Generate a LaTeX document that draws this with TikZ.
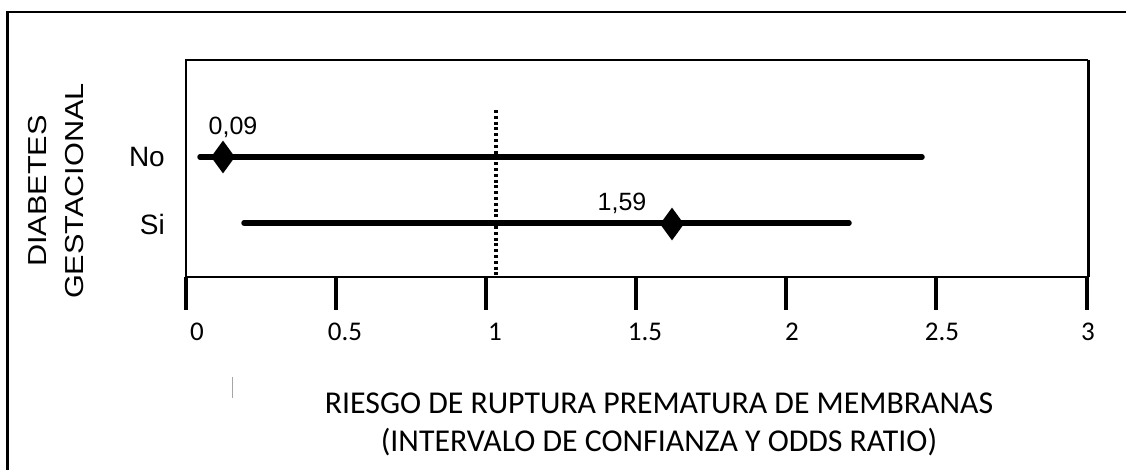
\documentclass[tikz,border=0pt]{standalone}
\usepackage{fontspec}
\setmainfont{Liberation Sans}
\newfontfamily\calfont{Carlito}
\usetikzlibrary{shapes.geometric}
\tikzset{
  ci/.style={line width=5.5pt, line cap=round},
  odiam/.style={diamond, fill=black, draw=none, inner sep=0pt, minimum width=24pt, minimum height=33pt},
  tickln/.style={line width=3.5pt},
  ticklab/.style={font=\calfont\fontsize{27}{32}\selectfont, inner sep=0pt},
  vallab/.style={font=\fontsize{25}{30}\selectfont, inner sep=0pt},
  rowlab/.style={font=\fontsize{28}{32}\selectfont, inner sep=0pt, anchor=east},
  axlab/.style={font=\fontsize{26}{30}\selectfont, inner sep=0pt, rotate=90},
  titlab/.style={font=\calfont\fontsize{31.8}{38}\selectfont, inner sep=0pt, align=center}
}
\begin{document}
\begin{tikzpicture}[x=1pt,y=-1pt]
\useasboundingbox (0,0) rectangle (1126,470);
% outer frame (left and top edges)
\coordinate (fbl) at (7.5,470);
\coordinate (ftl) at (7.5,12);
\coordinate (ftr) at (1126,12);
\draw[line width=2.2pt] (fbl) -- (ftl) -- (ftr);
% plot box
\coordinate (bl) at (186,277);
\coordinate (tl) at (186,60);
\coordinate (tr) at (1088,60);
\coordinate (br) at (1088,277);
\draw[line width=2pt] (br) -- (bl) -- (tl) -- (tr);
\draw[line width=3pt] (tr) -- (br);
% ticks
\foreach \i/\x in {0/186,1/336,2/486,3/636,4/786,5/936,6/1087}{
  \coordinate (t\i a) at (\x,277);
  \coordinate (t\i b) at (\x,310);
  \draw[tickln] (t\i a) -- (t\i b);
}
\node[ticklab] (l0) at (197,332) {0};
\node[ticklab] (l1) at (345,332) {0.5};
\node[ticklab] (l2) at (495,332) {1};
\node[ticklab] (l3) at (645,332) {1.5};
\node[ticklab] (l4) at (792,332) {2};
\node[ticklab] (l5) at (942,332) {2.5};
\node[ticklab] (l6) at (1088,332) {3};
% reference line
\coordinate (r1) at (496,110);
\coordinate (r2) at (496,277);
\draw[line width=3.2pt, dash pattern=on 3pt off 2.8pt] (r1) -- (r2);
% confidence intervals
\coordinate (nos) at (200,157);
\coordinate (noe) at (922,157);
\draw[ci] (nos) -- (noe);
\node[odiam] (nod) at (223,157) {};
\coordinate (sis) at (244,223);
\coordinate (sie) at (849,223);
\draw[ci] (sis) -- (sie);
\node[odiam] (sid) at (672,224) {};
\node[vallab] (nov) at (233,127) {0,09};
\node[vallab] (siv) at (622,203) {1,59};
% row labels
\node[rowlab] (nol) at (165,157) {No};
\node[rowlab] (sil) at (165,224) {Si};
% axis label
\node[axlab] (ax1) at (38,191) {\scalebox{1.18}[1]{DIABETES}};
\node[axlab] (ax2) at (75,191) {\scalebox{1.18}[1]{GESTACIONAL}};
% stray mark
\coordinate (s1) at (232,377);
\coordinate (s2) at (232,398);
\draw[gray!70, line width=0.8pt] (s1) -- (s2);
% title
\node[titlab] (tit) at (659,424) {RIESGO DE RUPTURA PREMATURA DE MEMBRANAS\\(INTERVALO DE CONFIANZA Y ODDS RATIO)};
\end{tikzpicture}
\end{document}
